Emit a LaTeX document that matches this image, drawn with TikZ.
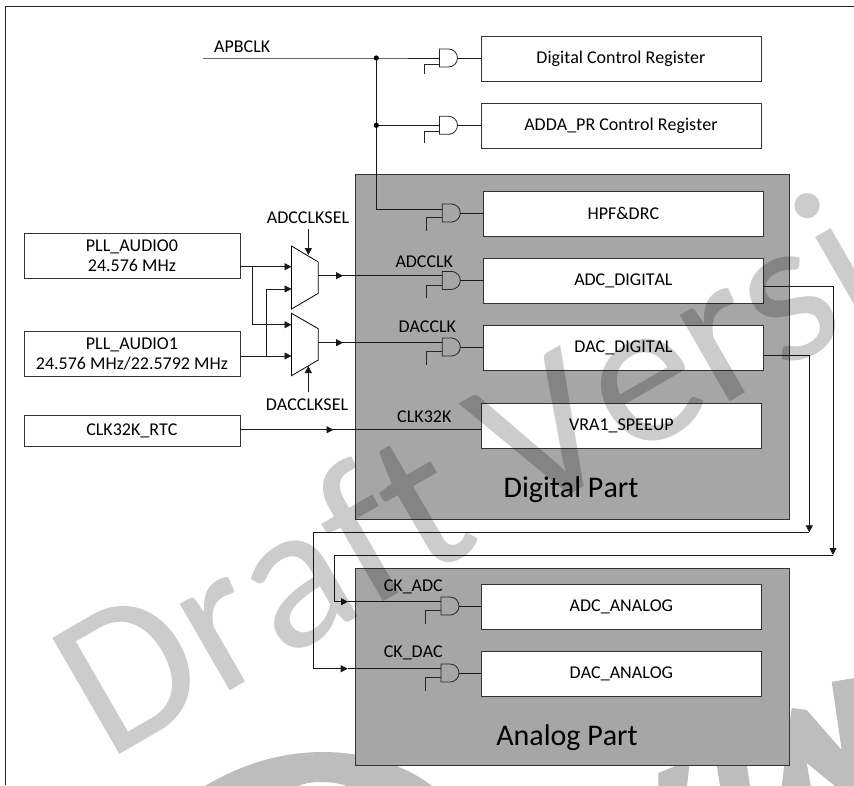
\documentclass[tikz,border=0pt]{standalone}
\usepackage{fontspec}
\setmainfont[Kerning=Off,Ligatures=NoCommon]{Carlito}
\usetikzlibrary{arrows.meta,calc}
\tikzset{
 x=1pt,y=-1pt,
 wire/.style={line width=0.8pt,black!90},
 arr/.style={wire,-{Triangle[length=7pt,width=7pt]}},
 box/.style={draw=black!80,fill=white,line width=0.8pt,inner sep=0pt,font=\fontsize{18}{20}\selectfont,align=center},
 panel/.style={draw=black!80,fill=black!35,line width=0.9pt,inner sep=0pt},
 lab/.style={font=\fontsize{18}{20}\selectfont,inner sep=0pt,anchor=base},
 big/.style={font=\fontsize{30}{32}\selectfont,inner sep=0pt,anchor=base},
 gate/.style={draw=black!85,line width=0.8pt},
 wm/.style={font=\fontsize{209}{209}\selectfont,inner sep=0pt,text=black,text opacity=0.2},
 wmb/.style={fill=black!26},
}
% name, x left, y centre, y of signal input, y of enable, y of stub end
\newcommand{\andgate}[6]{%
 \draw[gate] (#2,#3-9) -- (#2+9,#3-9) .. controls (#2+14,#3-9) and (#2+18,#3-5) .. (#2+18,#3) .. controls (#2+18,#3+5) and (#2+14,#3+9) .. (#2+9,#3+9) -- (#2,#3+9) -- cycle;
 \coordinate (#1in) at (#2,#4);
 \coordinate (#1out) at (#2+18,#3);
 \coordinate (#1en) at (#2,#5);
 \coordinate (#1s) at (#2-15.5,#6);
 \draw[gate] (#1en) -- (#1s|-#1en) -- (#1s);
}
\newcommand{\bx}[6]{\node[box,minimum width=#4pt,minimum height=#5pt,anchor=north west] (#1) at (#2,#3) {#6};}
\begin{document}
\begin{tikzpicture}
\useasboundingbox (0,0) rectangle (854,785);
\fill[white] (0,0) rectangle (854,785);
\clip (0,0) rectangle (854,785);
% lower watermark shapes (under the panels)
\fill[wmb] (205,786) .. controls (240,765) and (280,752) .. (323,752) .. controls (365,752) and (405,765) .. (432,786) -- (347,786) .. controls (338,783) and (330,782) .. (320,782) .. controls (312,782) and (305,783) .. (298,786) -- cycle;
\fill[wmb] (658.3,786) -- (658.3,773) -- (690,760) -- (687,786) -- cycle;
\fill[wmb] (720,786) -- (716,760) -- (746,760) -- (750,786) -- cycle;
\fill[wmb] (781.7,786) -- (791.7,708) -- (806.7,710) -- (841.7,750) -- (831.7,681.7) -- (855,678) -- (855,786) -- (835,786) -- (806.7,763) -- (810.7,786) -- cycle;
\coordinate (fa) at (5.7,785); \coordinate (fb) at (5.7,6); \coordinate (fc) at (854,6);
\draw[line width=0.8pt,black!85] (fa)--(fb)--(fc);
% panels
\node[panel,minimum width=434pt,minimum height=345pt,anchor=north west] (digital) at (355,173.5) {};
\node[panel,minimum width=434pt,minimum height=197pt,anchor=north west] (analog) at (355,567.5) {};
% boxes
\bx{dcr}{480.5}{36}{280}{44.5}{Digital Control Register}
\bx{adda}{480.5}{103}{280}{44.5}{ADDA\_PR Control Register}
\bx{hpf}{483}{191}{280}{44.5}{HPF\&DRC}
\bx{adcd}{483}{258}{280}{44.5}{ADC\_DIGITAL}
\bx{dacd}{483}{325}{280}{44.5}{DAC\_DIGITAL}
\bx{vra}{481}{403}{280}{44.5}{VRA1\_SPEEUP}
\bx{adca}{481}{584}{280}{44.5}{ADC\_ANALOG}
\bx{daca}{481}{651}{280}{44.5}{DAC\_ANALOG}
\bx{pll0}{23.5}{233}{216}{44.5}{PLL\_AUDIO0\\24.576 MHz}
\bx{pll1}{23.5}{331}{216}{44.5}{PLL\_AUDIO1\\24.576 MHz/22.5792 MHz}
\bx{rtc}{23.5}{414.5}{216}{31}{CLK32K\_RTC}
\node[big] (dp) at (571,497) {Digital Part};
\node[big] (ap) at (567,745.5) {Analog Part};
% gates
\andgate{ga}{439.5}{58}{58}{64}{74}
\andgate{gb}{439.5}{125.3}{125.3}{131.7}{143}
\andgate{gc}{442.3}{213}{209.3}{217.7}{231}
\andgate{gd}{442.3}{280.4}{275.7}{285}{298}
\andgate{ge}{442.3}{347}{342.7}{351.7}{365}
\andgate{gf}{441}{606}{601.7}{610}{624}
\andgate{gg}{441}{673}{668.7}{677}{691}
\draw[wire] (gaout)--(gaout-|dcr.west);
\draw[wire] (gbout)--(gbout-|adda.west);
\draw[wire] (gcout)--(gcout-|hpf.west);
\draw[wire] (gdout)--(gdout-|adcd.west);
\draw[wire] (geout)--(geout-|dacd.west);
\draw[wire] (gfout)--(gfout-|adca.west);
\draw[wire] (ggout)--(ggout-|daca.west);
% APB
\coordinate (apb) at (203,58);
\node[lab,anchor=base west] (apbl) at (214,52.7) {APBCLK};
\coordinate (ja) at (376.3,58); \coordinate (jb) at (376.3,125.3);
\draw[wire] (apb)--(ja)--(gain);
\draw[wire] (ja)--(jb)--(gbin);
\draw[wire] (jb)--(jb|-gcin)--(gcin);
\fill (ja) circle (2.6); \fill (jb) circle (2.6);
% muxes
\draw[draw=black,fill=white,line width=0.8pt] (291.5,246)--(318.3,262)--(318.3,293.3)--(291.5,309)--cycle;
\draw[draw=black,fill=white,line width=0.8pt] (291.5,313.3)--(318.3,328.7)--(318.3,360)--(291.5,375.7)--cycle;
\coordinate (mao) at (318.3,275.7); \coordinate (mbo) at (318.3,342.7);
\draw[wire] (mao)--(gdin); \draw[arr] (mao)--(343,275.7);
\draw[wire] (mbo)--(gein); \draw[arr] (mbo)--(343,342.7);
\coordinate (jc) at (252.7,266.7); \coordinate (jd) at (266.3,356);
\draw[arr] (pll0.east|-jc)--(291.5,266.7);
\draw[wire] (jc)--(252.7,324.7); \draw[arr] (252.7,324.7)--(291.5,324.7);
\draw[arr] (pll1.east|-jd)--(291.5,356);
\draw[wire] (jd)--(266.3,289); \draw[arr] (266.3,289)--(291.5,289);
\node[lab] (as) at (308,223) {ADCCLKSEL};
\node[lab] (ds) at (307,410) {DACCLKSEL};
\coordinate (asa) at (308.3,229); \coordinate (asb) at (308.3,255);
\coordinate (dsa) at (308.3,392.3); \coordinate (dsb) at (308.3,366);
\draw[arr] (asa)--(asb);
\draw[arr] (dsa)--(dsb);
\node[lab] (al) at (424.3,267.5) {ADCCLK};
\node[lab] (dl) at (427.3,332.5) {DACCLK};
% clk32
\coordinate (cc) at (333.5,429.7);
\draw[wire] (rtc.east|-cc)--(vra.west|-cc);
\draw[arr] (rtc.east|-cc)--(cc);
\node[lab] (cl) at (424.3,422.5) {CLK32K};
% feedback
\coordinate (fe) at (833,286.7); \coordinate (ff) at (833,555);
\coordinate (fg) at (809.3,355.7); \coordinate (fh) at (809.3,532.3);
\draw[arr] (adcd.east|-fe)--(fe)--(ff);
\draw[wire] (ff)--(334.7,555)--(334.7,601.7);
\draw[arr] (334.7,601.7)--(348,601.7);
\draw[wire] (348,601.7)--(gfin);
\draw[arr] (dacd.east|-fg)--(fg)--(fh);
\draw[wire] (fh)--(313.3,532.3)--(313.3,668.7);
\draw[arr] (313.3,668.7)--(347.7,668.7);
\draw[wire] (347.7,668.7)--(ggin);
\node[lab] (ca) at (413.3,591.5) {CK\_ADC};
\node[lab] (cd) at (413.3,657.5) {CK\_DAC};
% watermark
\node[wm,rotate=30,anchor=base west] (wt) at (107.5,761.4) {Draft Version};
\end{tikzpicture}
\end{document}
